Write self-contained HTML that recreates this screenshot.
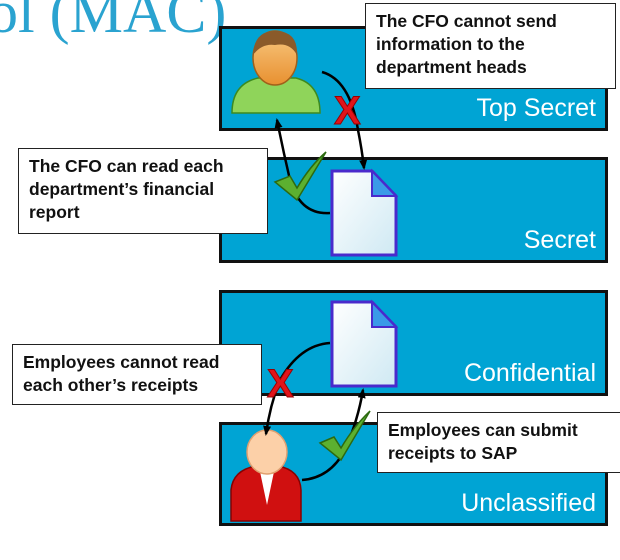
<!DOCTYPE html>
<html><head><meta charset="utf-8"><style>
body{margin:0;width:620px;height:560px;background:#fff;overflow:hidden;position:relative;font-family:"Liberation Sans",sans-serif}
.lv{position:absolute;left:219px;width:389px;height:102px;background:#00a4d4;border:3px solid #111;box-sizing:border-box}
.lv span{position:absolute;right:9px;bottom:5px;color:#fff;font-size:25px}
.co{position:absolute;background:#fff;border:1.5px solid #222;box-sizing:border-box;font-weight:bold;font-size:17.5px;line-height:23px;color:#111;padding:6px 10px}
.title{position:absolute;left:-12px;top:-22px;font-family:"Liberation Serif",serif;font-size:60px;color:#2aa3d0}
</style></head><body>
<div class="title">ol (MAC)</div>
<div class="lv" style="top:26px;height:105px"><span>Top Secret</span></div>
<div class="lv" style="top:157px;height:106px"><span>Secret</span></div>
<div class="lv" style="top:290px;height:106px"><span>Confidential</span></div>
<div class="lv" style="top:422px;height:104px"><span>Unclassified</span></div>
<svg width="620" height="560" style="position:absolute;left:0;top:0">
<defs>
<linearGradient id="doc" x1="0" y1="0" x2="1" y2="1"><stop offset="0" stop-color="#fff"/><stop offset="1" stop-color="#cfe9f3"/></linearGradient>
<linearGradient id="hd" x1="0" y1="0" x2="0" y2="1"><stop offset="0" stop-color="#f8c880"/><stop offset="1" stop-color="#e89030"/></linearGradient>
<marker id="ah" markerUnits="userSpaceOnUse" markerWidth="10" markerHeight="10" refX="8" refY="5" orient="auto"><path d="M0,1 L10,5 L0,9z" fill="#000"/></marker>
</defs>
<path d="M232,113 Q232,84 258,78 L296,78 Q320,84 320,113 Z" fill="#8fd45a" stroke="#3d8a20" stroke-width="1.5"/>
<ellipse cx="275" cy="58" rx="22" ry="27" fill="url(#hd)" stroke="#a0601a" stroke-width="1.5"/>
<path d="M253,55 Q254,30 277,31 Q298,32 297,55 Q290,42 275,45 Q262,43 253,55Z" fill="#8a5a2a"/>
<g>
<path d="M332,171 L372,171 L396,196 L396,255 L332,255 Z" fill="url(#doc)" stroke="#4a2acc" stroke-width="3"/>
<path d="M372,171 L372,196 L396,196 Z" fill="#3a9ae8" stroke="#4a2acc" stroke-width="2"/>
</g>
<g>
<path d="M332,302 L372,302 L396,327 L396,386 L332,386 Z" fill="url(#doc)" stroke="#4a2acc" stroke-width="3"/>
<path d="M372,302 L372,327 L396,327 Z" fill="#3a9ae8" stroke="#4a2acc" stroke-width="2"/>
</g>
<path d="M231,521 L231,490 Q233,470 256,466 L278,466 Q300,470 301,490 L301,521 Z" fill="#d01010" stroke="#800" stroke-width="1.5"/>
<path d="M259,467 L275,467 L267,505Z" fill="#fff"/>
<ellipse cx="267" cy="452" rx="20" ry="22" fill="#fcd0a8" stroke="#e0a070" stroke-width="1.5"/>
<path d="M322,72 Q350,80 358,130 Q362,150 364,168" fill="none" stroke="#000" stroke-width="2.5" marker-end="url(#ah)"/>
<path d="M330,213 Q300,215 290,180 Q283,150 277,120" fill="none" stroke="#000" stroke-width="2.5" marker-end="url(#ah)"/>
<path d="M330,343 Q300,345 280,380 Q270,405 266,434" fill="none" stroke="#000" stroke-width="2.5" marker-end="url(#ah)"/>
<path d="M302,480 Q330,478 345,450 Q358,420 363,390" fill="none" stroke="#000" stroke-width="2.5" marker-end="url(#ah)"/>
<text x="334" y="124" font-family="Liberation Sans" font-weight="bold" font-size="40" fill="#e0141a" stroke="#900" stroke-width="1">X</text>
<text x="267" y="397" font-family="Liberation Sans" font-weight="bold" font-size="40" fill="#e0141a" stroke="#900" stroke-width="1">X</text>
<path d="M275,182 L290,176 L297,188 Q310,166 326,152 L297,200 Z" fill="#5cb030" stroke="#2d6a10" stroke-width="1.5"/>
<path d="M320,443 L334,437 L341,448 Q354,426 370,411 L341,460 Z" fill="#5cb030" stroke="#2d6a10" stroke-width="1.5"/>
</svg>
<div class="co" style="left:365px;top:3px;width:251px;height:86px">The CFO cannot send information to the department heads</div>
<div class="co" style="left:18px;top:148px;width:250px;height:86px">The CFO can read each department’s financial report</div>
<div class="co" style="left:12px;top:344px;width:250px;height:61px">Employees cannot read each other’s receipts</div>
<div class="co" style="left:377px;top:412px;width:250px;height:61px">Employees can submit receipts to SAP</div>
</body></html>
